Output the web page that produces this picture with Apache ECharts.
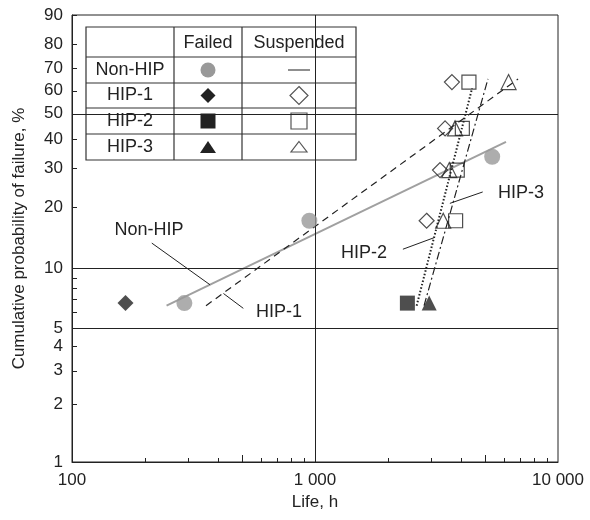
<!DOCTYPE html>
<html lang="en">
<head>
    <meta charset="UTF-8">
    <title>Weibull plot</title>
    <script src="https://cdn.jsdelivr.net/npm/echarts@6/dist/echarts.min.js"></script>
    <style>
        *{ margin: 0; padding: 0; }
        body{ background: #fff; }
        .container{ width: 590px; height: 520px; }
    </style>
</head>
<body>
<div class="container"></div>
<script>
    // life in hours, cumulative probability in %
    const nonHipFailed = [[290, 6.7], [948, 17.2], [5360, 33.7]];
    const hip1Failed = [[166, 6.7]];
    const hip1Suspended = [[3660, 63.9], [3430, 44.0], [3270, 29.5], [2880, 17.2]];
    const hip2Failed = [[2400, 6.7]];
    const hip2Suspended = [[4300, 63.9], [4040, 44.0], [3850, 29.5], [3790, 17.2]];
    const hip3Failed = [[2950, 6.7]];
    const hip3Suspended = [[6260, 63.9], [3770, 44.0], [3570, 29.5], [3370, 17.2]];

    // fitted lines (end points)
    const nonHipFit = [[245, 6.5], [6110, 38.9]];
    const hip1Fit = [[356, 6.5], [6850, 65.3]];
    const hip2Fit = [[2620, 6.5], [4430, 61.1]];
    const hip3Fit = [[2810, 6.5], [5150, 65.3]];

    // annotations
    const noteNames = ['Non-HIP', 'HIP-1', 'HIP-2', 'HIP-3'];
    const notePos = [[208, 15.6], [711, 6.05], [1586, 12.0], [7010, 23.3]];
    const leaders = [
        [[213, 13.4], [370, 8.3]],
        [[420, 7.5], [507, 6.3]],
        [[2300, 12.5], [3120, 14.3]],
        [[3590, 20.8], [4900, 23.5]]
    ];

    // axes
    const yLabels = [1, 2, 3, 4, 5, 10, 20, 30, 40, 50, 60, 70, 80, 90];
    const yTicks = [1, 2, 3, 4, 5, 6, 7, 8, 9, 10, 20, 30, 40, 50, 60, 70, 80, 90];
    const xLabels = [100, 1000, 10000];
    const xTicks = [200, 300, 400, 600, 700, 800, 900, 2000, 3000, 4000, 6000, 7000, 8000, 9000];
    const xLongTicks = [500, 5000];
    const gridPercents = [5, 10, 50];
    const gridHours = [1000];

    const wb = p => Math.log(-Math.log(1 - p / 100));
    const lg = v => Math.log10(v);
    const pt = d => [lg(d[0]), wb(d[1])];
    const ink = '#222';
    const font = 'Liberation Sans, Arial, sans-serif';

    let mycharts = echarts.init(document.querySelector('.container'));

    function pointSeries(data, symbol, size, style) {
        return {
            type: 'scatter', data: data.map(pt), symbol, symbolSize: size,
            itemStyle: style, silent: true, z: 5
        };
    }
    function fitSeries(data, style) {
        return {
            type: 'line', data: data.map(pt), symbol: 'none', silent: true,
            lineStyle: style, z: 4
        };
    }
    const hollow = {color: 'rgba(0,0,0,0)', borderColor: ink, borderWidth: 1.2};

    let series = [
        fitSeries(nonHipFit, {color: '#a0a0a0', width: 2}),
        fitSeries(hip1Fit, {color: ink, width: 1.2, type: [7, 5]}),
        fitSeries(hip2Fit, {color: ink, width: 2, type: [1.5, 2]}),
        fitSeries(hip3Fit, {color: ink, width: 1.2, type: [8, 3, 2, 3]}),
        pointSeries(nonHipFailed, 'circle', 16, {color: '#999'}),
        pointSeries(hip1Failed, 'diamond', 16, {color: ink}),
        pointSeries(hip2Failed, 'rect', 15, {color: ink}),
        pointSeries(hip3Failed, 'triangle', 15, {color: ink}),
        pointSeries(hip1Suspended, 'diamond', 15, hollow),
        pointSeries(hip2Suspended, 'rect', 14, hollow),
        pointSeries(hip3Suspended, 'triangle', 15, hollow),
        {
            // annotation texts
            type: 'custom', silent: true, z: 6,
            data: notePos.map(pt),
            renderItem: function (params, api) {
                let p = api.coord([api.value(0), api.value(1)]);
                return {
                    type: 'text', x: Math.round(p[0]), y: Math.round(p[1]),
                    style: {text: noteNames[params.dataIndex], fill: ink, font: '18px ' + font,
                        align: 'center', verticalAlign: 'middle'}
                };
            }
        },
        {
            type: 'line', silent: true, symbol: 'none', data: [],
            markLine: {
                silent: true, symbol: 'none', label: {show: false},
                lineStyle: {color: ink, width: 1, type: 'solid'},
                data: gridPercents.map(p => ({yAxis: wb(p)}))
                    .concat(gridHours.map(h => ({xAxis: lg(h)})))
                    .concat(leaders.map(l => [{coord: pt(l[0])}, {coord: pt(l[1])}]))
            }
        }
    ];

    // legend table
    const tx = 86, ty = 27, tw = 270, th = 133;
    const rows = [57, 83, 108, 134];
    const cols = [174, 242];
    const rowMid = [70, 95.5, 121, 147];
    const c1 = 208, c2 = 299;
    let table = [{type: 'rect', shape: {x: tx, y: ty, width: tw, height: th}, style: {fill: '#fff', stroke: '#333', lineWidth: 1.2}}];
    rows.forEach(y => table.push({type: 'line', shape: {x1: tx, y1: y, x2: tx + tw, y2: y}, style: {stroke: '#333', lineWidth: 1.2}}));
    cols.forEach(x => table.push({type: 'line', shape: {x1: x, y1: ty, x2: x, y2: ty + th}, style: {stroke: '#333', lineWidth: 1.2}}));
    const txt = (s, x, y) => ({type: 'text', x, y, style: {text: s, fill: ink, font: '18px ' + font, align: 'center', verticalAlign: 'middle'}});
    table.push(txt('Failed', c1, 43), txt('Suspended', c2, 43));
    noteNames.forEach((n, i) => table.push(txt(n, 130, rowMid[i])));
    const poly = (pts, style) => ({type: 'polygon', shape: {points: pts}, style});
    const solid = {fill: ink};
    const open = {fill: 'none', stroke: '#555', lineWidth: 1.2};
    table.push(
        {type: 'circle', shape: {cx: c1, cy: rowMid[0], r: 7.5}, style: {fill: '#999'}},
        {type: 'line', shape: {x1: c2 - 11, y1: rowMid[0], x2: c2 + 11, y2: rowMid[0]}, style: {stroke: '#444', lineWidth: 1.2}},
        poly([[c1, rowMid[1] - 7.5], [c1 + 7.5, rowMid[1]], [c1, rowMid[1] + 7.5], [c1 - 7.5, rowMid[1]]], solid),
        poly([[c2, rowMid[1] - 9], [c2 + 9, rowMid[1]], [c2, rowMid[1] + 9], [c2 - 9, rowMid[1]]], open),
        {type: 'rect', shape: {x: c1 - 7.5, y: rowMid[2] - 7.5, width: 15, height: 15}, style: solid},
        {type: 'rect', shape: {x: c2 - 8, y: rowMid[2] - 8, width: 16, height: 16}, style: open},
        poly([[c1, rowMid[3] - 6], [c1 + 8, rowMid[3] + 6], [c1 - 8, rowMid[3] + 6]], solid),
        poly([[c2, rowMid[3] - 5.5], [c2 + 8, rowMid[3] + 5], [c2 - 8, rowMid[3] + 5]], open)
    );

    const axisText = {color: ink, fontSize: 17, fontFamily: font};

    let options = {
        backgroundColor: '#fff',
        animation: false,
        grid: {left: 72, right: 32, top: 15, bottom: 58, outerBoundsMode: 'none', containLabel: false,
            show: true, borderColor: ink, borderWidth: 1},
        xAxis: [{
            type: 'value', min: 2, max: 4, position: 'bottom',
            name: 'Life, h', nameLocation: 'middle', nameGap: 32,
            nameTextStyle: axisText,
            axisLine: {onZero: false, lineStyle: {color: ink}},
            axisTick: {inside: true, length: 4, customValues: xTicks.map(lg), lineStyle: {color: ink}},
            axisLabel: {customValues: xLabels.map(lg), margin: 10, ...axisText,
                formatter: v => String(Math.round(Math.pow(10, v))).replace(/\B(?=(\d{3})+$)/g, ' ')},
            splitLine: {show: false}
        }, {
            type: 'value', min: 2, max: 4, position: 'bottom',
            axisLine: {show: false, onZero: false}, axisLabel: {show: false}, splitLine: {show: false},
            axisTick: {inside: true, length: 7, customValues: xLongTicks.map(lg), lineStyle: {color: ink}}
        }],
        yAxis: {
            type: 'value', min: wb(1), max: wb(90),
            name: 'Cumulative probability of failure, %', nameLocation: 'middle', nameGap: 44,
            nameTextStyle: axisText,
            axisLine: {show: true, onZero: false, lineStyle: {color: ink}},
            axisTick: {show: true, inside: true, length: 5, customValues: yTicks.map(wb), lineStyle: {color: ink}},
            axisLabel: {customValues: yLabels.map(wb), margin: 9, ...axisText,
                formatter: v => String(Math.round(100 * (1 - Math.exp(-Math.exp(v)))))},
            splitLine: {show: false}
        },
        graphic: [{type: 'group', z: 100, children: table}],
        series
    };

    mycharts.setOption(options);
</script>
</body>
</html>
